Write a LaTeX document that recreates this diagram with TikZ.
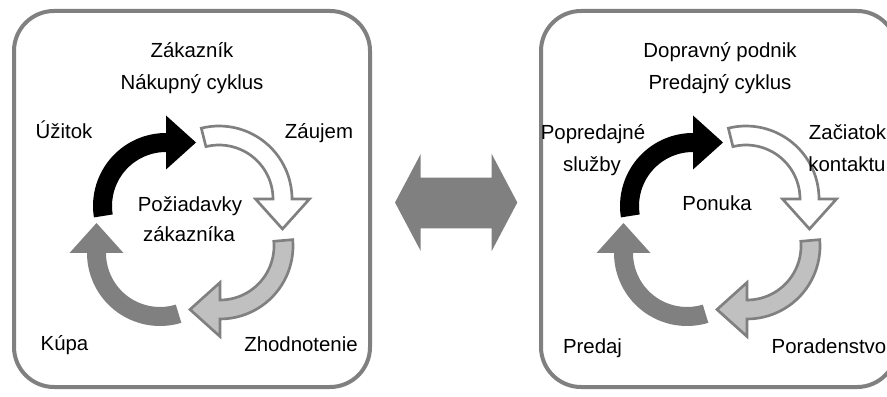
\documentclass[tikz,border=0pt]{standalone}
\usepackage{fontspec}
\setmainfont{Liberation Sans}
\usetikzlibrary{calc}
\definecolor{boxgray}{HTML}{808080}
\definecolor{lightfill}{HTML}{C0C0C0}
\def\cyRo{73}\def\cyRi{54}\def\cyRm{63.5}\def\cyRho{90.5}\def\cyRhi{36.5}\def\cyHL{30}
\newcommand\cycarrow[4]{%
  \pgfmathsetmacro\cyA{#2}%
  \pgfmathsetmacro\cyB{#3}%
  \pgfmathsetmacro\cyT{#3-90}%
  \path[#4] ($(#1)+(\cyA:\cyRo)$) arc[start angle=\cyA,end angle=\cyB,radius=\cyRo]
    -- ($(#1)+(\cyB:\cyRho)$) -- ($(#1)+(\cyB:\cyRm)+(\cyT:\cyHL)$)
    -- ($(#1)+(\cyB:\cyRhi)$) -- ($(#1)+(\cyB:\cyRi)$)
    arc[start angle=\cyB,end angle=\cyA,radius=\cyRi] -- cycle;}
\tikzset{
  panel/.style={draw=boxgray,line width=3pt,rounded corners=30pt},
  lbl/.style={font=\fontsize{15.3}{18}\selectfont,anchor=base,inner sep=0pt},
  blackarrow/.style={fill=black},
  whitearrow/.style={fill=white,draw=boxgray,line width=2pt},
  lightarrow/.style={fill=lightfill,draw=boxgray,line width=2pt},
  darkarrow/.style={fill=boxgray},
  dblarrow/.style={fill=boxgray}
}
\begin{document}
\begin{tikzpicture}[x=0.75pt,y=0.75pt]
\useasboundingbox (0,0) rectangle (887,396);
\clip (0,0) rectangle (887,396);
% panels
\draw[panel] (14,9) rectangle (370,385);
\draw[panel] (541,9) rectangle (897,385);
% double arrow
\path[dblarrow] (395,193.5) -- (420.7,242) -- (420.7,218.3) -- (491.7,218.3) -- (491.7,242)
  -- (517.3,193.5) -- (491.7,145) -- (491.7,167.7) -- (420.7,167.7) -- (420.7,145) -- cycle;
% left cycle
\coordinate (lcb) at (166,190);
\coordinate (lcw) at (219,197);
\coordinate (lcl) at (220,150);
\coordinate (lcd) at (160,143);
\cycarrow{lcb}{189}{90}{blackarrow}
\cycarrow{lcw}{104}{0}{whitearrow}
\cycarrow{lcl}{5}{-90}{lightarrow}
\cycarrow{lcd}{-73}{-180}{darkarrow}
% right cycle
\coordinate (rcb) at (693,190);
\coordinate (rcw) at (746,197);
\coordinate (rcl) at (747,150);
\coordinate (rcd) at (687,143);
\cycarrow{rcb}{189}{90}{blackarrow}
\cycarrow{rcw}{104}{0}{whitearrow}
\cycarrow{rcl}{5}{-90}{lightarrow}
\cycarrow{rcd}{-73}{-180}{darkarrow}
% left labels
\node[lbl] (t1) at (192,338.7) {Zákazník};
\node[lbl] (t2) at (192,306) {Nákupný cyklus};
\node[lbl] (u) at (64,257.7) {Úžitok};
\node[lbl] (z) at (319,257.7) {Záujem};
\node[lbl] (p1) at (190,184.3) {Požiadavky};
\node[lbl] (p2) at (189,154.3) {zákazníka};
\node[lbl] (k) at (64.5,46) {Kúpa};
\node[lbl] (zh) at (301,44.3) {Zhodnotenie};
% right labels
\node[lbl] (r1) at (720,338.7) {Dopravný podnik};
\node[lbl] (r2) at (720,306.7) {Predajný cyklus};
\node[lbl] (ps1) at (593,256.7) {Popredajné};
\node[lbl] (ps2) at (592,224.3) {služby};
\node[lbl] (zc1) at (847.5,256.7) {Začiatok};
\node[lbl] (zc2) at (847,224.3) {kontaktu};
\node[lbl] (pn) at (717,185.3) {Ponuka};
\node[lbl] (pr) at (592.5,42.7) {Predaj};
\node[lbl] (po) at (829,42.7) {Poradenstvo};
\end{tikzpicture}
\end{document}
